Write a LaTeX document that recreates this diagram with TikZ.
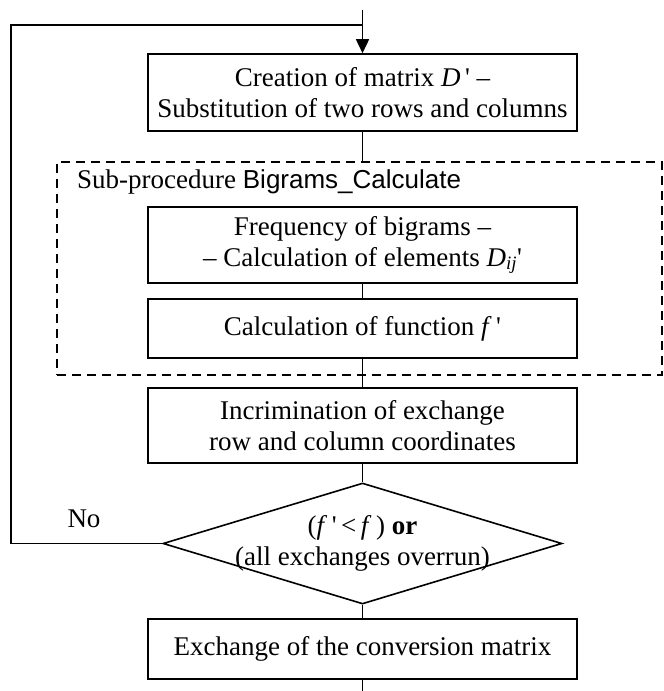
\documentclass[tikz,border=0pt]{standalone}
\usepackage{fontspec}
\setmainfont{Liberation Serif}
\setsansfont{Liberation Sans}
\usetikzlibrary{positioning,shapes.geometric,arrows.meta}

\begin{document}
\begin{tikzpicture}[x=1pt,y=-1pt,
  txt/.style={font=\fontsize{27}{31}\selectfont},
  blk/.style={draw,line width=1.6pt,minimum width=429pt,inner sep=0pt,align=center,txt},
  conn/.style={line width=1.6pt}]
\useasboundingbox (0,0) rectangle (664,691);
% dashed frame of the sub-procedure
\node[draw,line width=1.6pt,dash pattern=on 9pt off 6pt,minimum width=605pt,minimum height=213pt] (sub) at (359.5,268.5) {};
\node[txt,anchor=base west,inner sep=0pt] (sublabel) at (77,188) {Sub-procedure \textsf{\fontsize{26}{31}\selectfont Bigrams\_Calculate}};
% process boxes
\node[blk,minimum height=77pt] (create) at (362.5,92.5) {Creation of matrix \textit{D}\,\textquotesingle\ –\\Substitution of two rows and columns};
\node[blk,minimum height=76pt] (freq) at (362.5,245) {Frequency of bigrams –\\– Calculation of elements \textit{D}\textsubscript{\textit{ij}}\textquotesingle};
\node[blk,minimum height=59pt] (calc) at (362.5,328.5) {Calculation of function \textit{f}\,\textquotesingle};
\node[blk,minimum height=75pt] (incr) at (362.5,425.5) {Incrimination of exchange\\row and column coordinates};
\node[diamond,draw,line width=1.6pt,aspect=3.3,inner sep=0pt,minimum width=399pt,minimum height=121pt] (test) at (362.5,543.5) {};
\node[txt,align=center,inner sep=0pt] (testtxt) at (test.center) {(\textit{f}\,\textquotesingle\,<\,\textit{f}\,) \textbf{or}\\(all exchanges overrun)};
\node[blk,minimum height=60pt] (exch) at (362.5,649) {Exchange of the conversion matrix};
\node[txt,anchor=base,inner sep=0pt] (no) at (84,527) {No};
% connectors
\coordinate (top) at (362.5,10);
\coordinate (join) at (362.5,25);
\coordinate (corner) at (11,25);
\coordinate (bottom) at (362.5,691);
\draw[conn,-{Triangle[length=14pt,width=13pt]}] (top) -- (create);
\draw[conn] (create.south) -- (create.south |- sub.north);
\draw[conn] (freq) -- (calc);
\draw[conn] (calc) -- (incr);
\draw[conn] (incr) -- (test);
\draw[conn] (test) -- (exch);
\draw[conn] (exch) -- (bottom);
\draw[conn] (test.west) -| (corner) -- (join);
\end{tikzpicture}
\end{document}
